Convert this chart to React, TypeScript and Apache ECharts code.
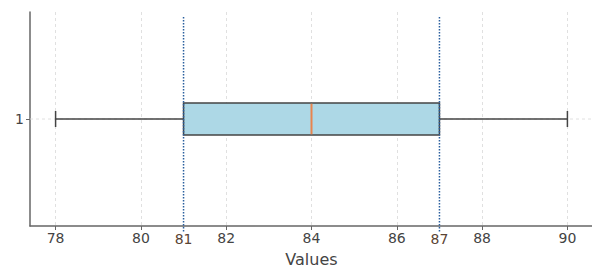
import React, { useEffect, useRef } from "react";
import * as echarts from "echarts";

const categories = ["1"];
const boxStats = [[78, 81, 84, 87, 90]]; // min, q1, median, q3, max
const refLines = [81, 87];
const tickValues = [78, 80, 82, 84, 86, 88, 90];
const labelValues = [78, 80, 81, 82, 84, 86, 87, 88, 90];
const xMin = 77.4;
const xMax = 90.6;

export default function App() {
  const ref = useRef<HTMLDivElement>(null);
  useEffect(() => {
    if (!ref.current) return;
    const chart = echarts.init(ref.current, undefined, { renderer: "svg" });
    const font = "DejaVu Sans";
    chart.setOption({
      animation: false,
      grid: { left: 22, right: 7, top: 4, bottom: 49, outerBoundsMode: "none", containLabel: false },
      xAxis: {
        type: "value",
        min: xMin,
        max: xMax,
        name: "Values",
        nameLocation: "middle",
        nameGap: 25,
        nameTextStyle: { fontFamily: font, fontSize: 16, color: "#444" },
        axisLine: { show: true, lineStyle: { color: "#666", width: 1.5 } },
        axisTick: { show: true, length: 4, customValues: tickValues, lineStyle: { color: "#666" } },
        axisLabel: {
          customValues: labelValues,
          fontFamily: font,
          fontSize: 14,
          color: "#444",
          margin: 5,
          formatter: (v: number) => (refLines.includes(v) ? "{r|" + v + "}" : String(v)),
          rich: { r: { fontFamily: font, fontSize: 14, color: "#5a4434", padding: [1, 0, 0, 0] } },
        },
        splitLine: { show: true, lineStyle: { color: "#d8d8d8", type: [3, 3], width: 0.8 } },
      },
      yAxis: {
        type: "category",
        data: categories,
        axisLine: { show: true, lineStyle: { color: "#666", width: 1.5 } },
        axisTick: { show: true, alignWithLabel: true, length: 4, lineStyle: { color: "#666" } },
        axisLabel: { fontFamily: font, fontSize: 14, color: "#444", margin: 6 },
        splitLine: { show: false },
      },
      series: [
        {
          type: "custom",
          data: boxStats.map((s, i) => [...s, i]),
          encode: { x: [0, 1, 2, 3, 4], y: 5 },
          z: 3,
          renderItem: (params: any, api: any) => {
            const cat = api.value(5);
            const pMin = api.coord([api.value(0), cat]);
            const pQ1 = api.coord([api.value(1), cat]);
            const pMed = api.coord([api.value(2), cat]);
            const pQ3 = api.coord([api.value(3), cat]);
            const pMax = api.coord([api.value(4), cat]);
            const band = api.size([0, 1])[1];
            const half = band * 0.075;
            const cap = half / 2;
            const cs = params.coordSys;
            const y = pMed[1];
            const stroke = { stroke: "#444", lineWidth: 1.5 };
            return {
              type: "group",
              children: [
                {
                  type: "line",
                  shape: { x1: cs.x, y1: y, x2: cs.x + cs.width, y2: y },
                  style: { stroke: "#d8d8d8", lineWidth: 0.8, lineDash: [3, 3] },
                  z2: 0,
                },
                { type: "line", shape: { x1: pMin[0], y1: y, x2: pQ1[0], y2: y }, style: stroke, z2: 1 },
                { type: "line", shape: { x1: pQ3[0], y1: y, x2: pMax[0], y2: y }, style: stroke, z2: 1 },
                { type: "line", shape: { x1: pMin[0], y1: y - cap, x2: pMin[0], y2: y + cap }, style: stroke, z2: 1 },
                { type: "line", shape: { x1: pMax[0], y1: y - cap, x2: pMax[0], y2: y + cap }, style: stroke, z2: 1 },
                {
                  type: "rect",
                  shape: { x: pQ1[0], y: y - half, width: pQ3[0] - pQ1[0], height: half * 2 },
                  style: { fill: "#ADD8E6", stroke: "#444", lineWidth: 1.5 },
                  z2: 2,
                },
                {
                  type: "line",
                  shape: { x1: pMed[0], y1: y - half + 0.75, x2: pMed[0], y2: y + half - 0.75 },
                  style: { stroke: "#e8844e", lineWidth: 2 },
                  z2: 3,
                },
              ],
            };
          },
        },
        {
          type: "custom",
          data: refLines.map((v) => [v, 0]),
          encode: { x: 0, y: 1 },
          z: 4,
          renderItem: (params: any, api: any) => {
            const p = api.coord([api.value(0), 0]);
            const cs = params.coordSys;
            return {
              type: "line",
              shape: { x1: p[0], y1: cs.y + 5, x2: p[0], y2: cs.y + cs.height + 6 },
              style: { stroke: "#2a5f9e", lineWidth: 1.5, lineDash: [1.5, 1.5] },
            };
          },
        },
      ],
    });
    return () => chart.dispose();
  }, []);
  return <div ref={ref} style={{ width: 592, height: 267 }} />;
}
